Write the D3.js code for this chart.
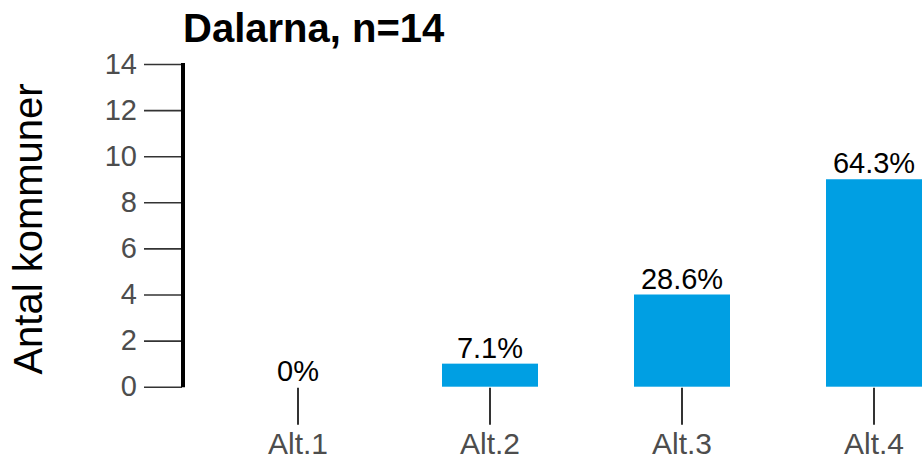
<!DOCTYPE html>
<html>
<head>
<meta charset="utf-8">
<script src="https://cdn.jsdelivr.net/npm/d3@7"></script>
<style>
  body { margin: 0; background: #fff; }
  text { font-family: "Liberation Sans", Arial, sans-serif; }
</style>
</head>
<body>
<div id="chart"></div>
<script>
var width = 923
var height = 459

// data
var categories = ["Alt.1", "Alt.2", "Alt.3", "Alt.4"]
var counts = [0, 1, 4, 9]
var percentLabels = ["0%", "7.1%", "28.6%", "64.3%"]
var yTicks = [0, 2, 4, 6, 8, 10, 12, 14]

var svg = d3.select("#chart")
    .append("svg")
    .attr("width", width)
    .attr("height", height)

var x = d3.scaleBand()
    .domain(categories)
    .range([202, 970])
    .paddingInner(0.5)
    .paddingOuter(0.25)

var y = d3.scaleLinear()
    .domain([0, 14])
    .range([386.7, 64])

// title
svg.append("text")
    .attr("x", 183)
    .attr("y", 42)
    .attr("font-size", 40)
    .attr("font-weight", "bold")
    .attr("fill", "#000")
    .text("Dalarna, n=14")

// y axis
var yAxis = svg.append("g")
    .attr("transform", "translate(182,0)")
    .call(d3.axisLeft(y).tickValues(yTicks).tickSize(38).tickPadding(7))

yAxis.select(".domain").remove()
yAxis.selectAll(".tick line")
    .attr("stroke", "#333")
    .attr("stroke-width", 1.6)
yAxis.selectAll(".tick text")
    .attr("font-size", 29)
    .attr("fill", "#4d4d4d")
    .attr("font-family", "Liberation Sans, Arial, sans-serif")

// thick vertical axis line
svg.append("line")
    .attr("x1", 183)
    .attr("x2", 183)
    .attr("y1", y(14) - 1)
    .attr("y2", y(0) + 0.5)
    .attr("stroke", "#000")
    .attr("stroke-width", 4)

// x axis: ticks + labels only
var xAxis = svg.append("g")
    .attr("transform", "translate(0," + (y(0) + 1) + ")")
    .call(d3.axisBottom(x).tickSize(37).tickPadding(8))

xAxis.select(".domain").remove()
xAxis.selectAll(".tick line")
    .attr("stroke", "#333")
    .attr("stroke-width", 2)
xAxis.selectAll(".tick text")
    .attr("font-size", 30)
    .attr("fill", "#4d4d4d")
    .attr("font-family", "Liberation Sans, Arial, sans-serif")

// y label
svg.append("text")
    .attr("transform", "translate(42,229) rotate(-90)")
    .attr("text-anchor", "middle")
    .attr("font-size", 40)
    .attr("fill", "#000")
    .text("Antal kommuner")

// bars
svg.append("g")
    .selectAll("rect")
    .data(counts)
    .enter()
    .append("rect")
    .attr("x", function(d, i) { return x(categories[i]); })
    .attr("y", function(d) { return y(d); })
    .attr("width", x.bandwidth())
    .attr("height", function(d) { return y(0) - y(d); })
    .attr("fill", "#009fe3")

// percent labels
svg.append("g")
    .selectAll("text")
    .data(counts)
    .enter()
    .append("text")
    .attr("x", function(d, i) { return x(categories[i]) + x.bandwidth() / 2; })
    .attr("y", function(d) { return y(d) - 6; })
    .attr("text-anchor", "middle")
    .attr("font-size", 29)
    .attr("fill", "#000")
    .text(function(d, i) { return percentLabels[i]; })
</script>
</body>
</html>
